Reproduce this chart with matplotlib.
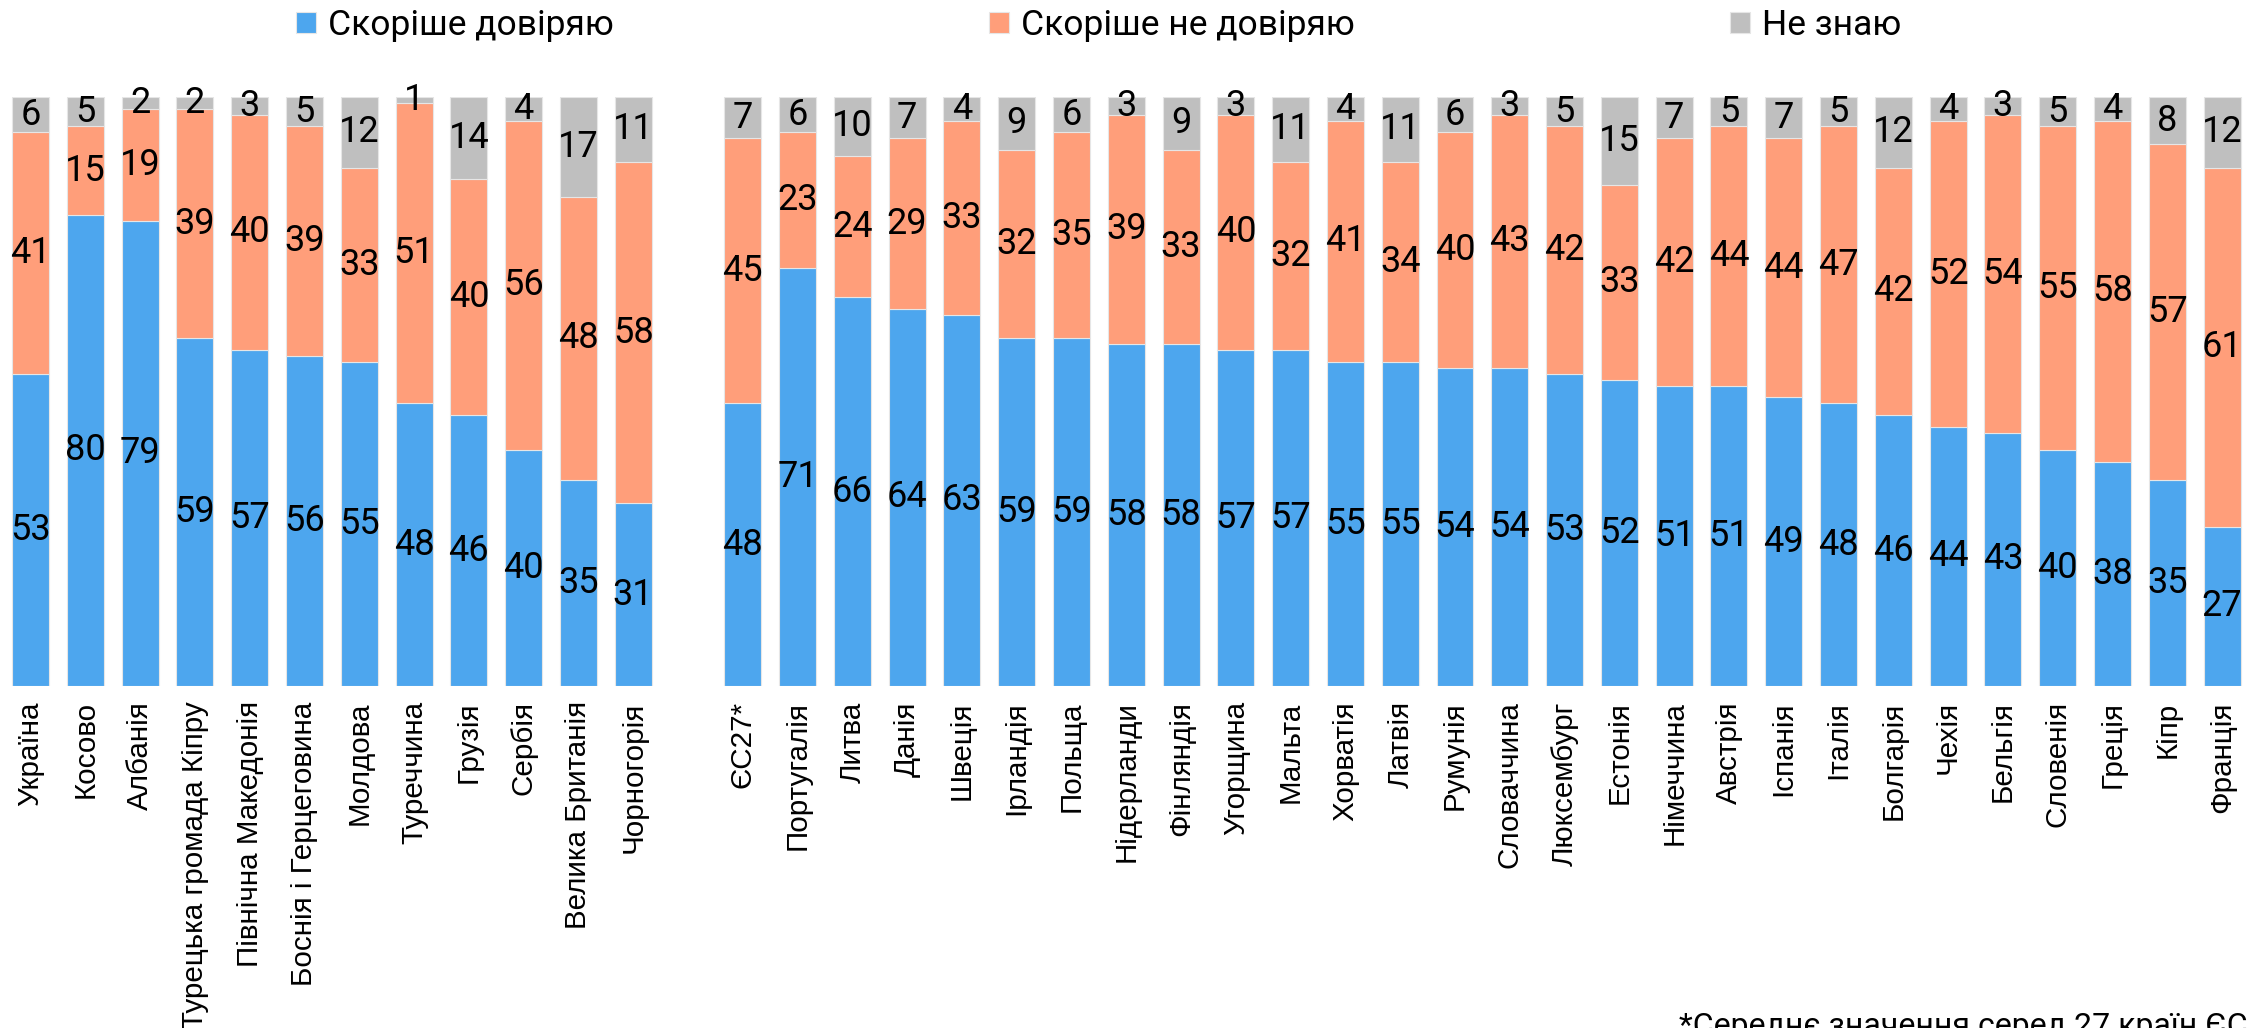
import matplotlib.pyplot as plt
import numpy as np

# шрифти: вузький для чисел і легенди, звичайний для підписів країн
narrow = ['Liberation Sans Narrow', 'Roboto', 'DejaVu Sans']
regular = ['Liberation Sans', 'DejaVu Sans']

# ліва група (країни поза ЄС)
left_names = ["Україна", "Косово", "Албанія", "Турецька громада Кіпру",
              "Північна Македонія", "Боснія і Герцеговина", "Молдова",
              "Туреччина", "Грузія", "Сербія", "Велика Британія", "Чорногорія"]
left_trust = [53, 80, 79, 59, 57, 56, 55, 48, 46, 40, 35, 31]
left_distrust = [41, 15, 19, 39, 40, 39, 33, 51, 40, 56, 48, 58]
left_dk = [6, 5, 2, 2, 3, 5, 12, 1, 14, 4, 17, 11]

# права група (ЄС)
right_names = ["ЄС27*", "Португалія", "Литва", "Данія", "Швеція", "Ірландія",
               "Польща", "Нідерланди", "Фінляндія", "Угорщина", "Мальта",
               "Хорватія", "Латвія", "Румунія", "Словаччина", "Люксембург",
               "Естонія", "Німеччина", "Австрія", "Іспанія", "Італія",
               "Болгарія", "Чехія", "Бельгія", "Словенія", "Греція", "Кіпр",
               "Франція"]
right_trust = [48, 71, 66, 64, 63, 59, 59, 58, 58, 57, 57, 55, 55, 54, 54, 53,
               52, 51, 51, 49, 48, 46, 44, 43, 40, 38, 35, 27]
right_distrust = [45, 23, 24, 29, 33, 32, 35, 39, 33, 40, 32, 41, 34, 40, 43,
                  42, 33, 42, 44, 44, 47, 42, 52, 54, 55, 58, 57, 61]
right_dk = [7, 6, 10, 7, 4, 9, 6, 3, 9, 3, 11, 4, 11, 6, 3, 5, 15, 7, 5, 7, 5,
            12, 4, 3, 5, 4, 8, 12]

series_labels = ["Скоріше довіряю", "Скоріше не довіряю", "Не знаю"]
colors = ["#4da6ee", "#ff9e7a", "#bfbfbf"]

names = left_names + right_names
trust = np.array(left_trust + right_trust)
distrust = np.array(left_distrust + right_distrust)
dk = np.array(left_dk + right_dk)
# одна порожня позиція між групами
x = np.concatenate([np.arange(len(left_names)),
                    np.arange(len(right_names)) + len(left_names) + 1])

fig = plt.figure(figsize=(22.56, 10.28), dpi=100)
ax = fig.add_axes([0, 0.3327, 1, 0.573])

bottom = np.zeros(len(names))
for vals, c, lab in zip([trust, distrust, dk], colors, series_labels):
    ax.bar(x, vals, 0.675, bottom=bottom, color=c, label=lab,
           edgecolor='#e6e6e6', linewidth=0.8)
    for xi, b, v in zip(x, bottom, vals):
        ax.text(xi, b + v / 2, str(v), ha='center', va='center',
                fontsize=26, family=narrow, color='black')
    bottom = bottom + vals

ax.set_xlim(-0.557, 40.62)
ax.set_ylim(0, 100)
ax.set_xticks(x)
ax.set_xticklabels(names, rotation=90, fontsize=21.3, family=regular,
                   va='top', ha='center')
ax.tick_params(axis='x', length=0, pad=11)
ax.set_yticks([])
for s in ax.spines.values():
    s.set_visible(False)

fig.legend(loc='center', bbox_to_anchor=(0.487, 0.975), ncol=3, frameon=False,
           prop={'family': narrow, 'size': 25.5}, handlelength=0.55,
           handleheight=0.55, handletextpad=0.35, columnspacing=10.6)

fig.text(0.9965, 0.0156, "*Середнє значення серед 27 країн ЄС", ha='right',
         va='top', fontsize=23, family=narrow)

fig.savefig("out.png", dpi=100)
